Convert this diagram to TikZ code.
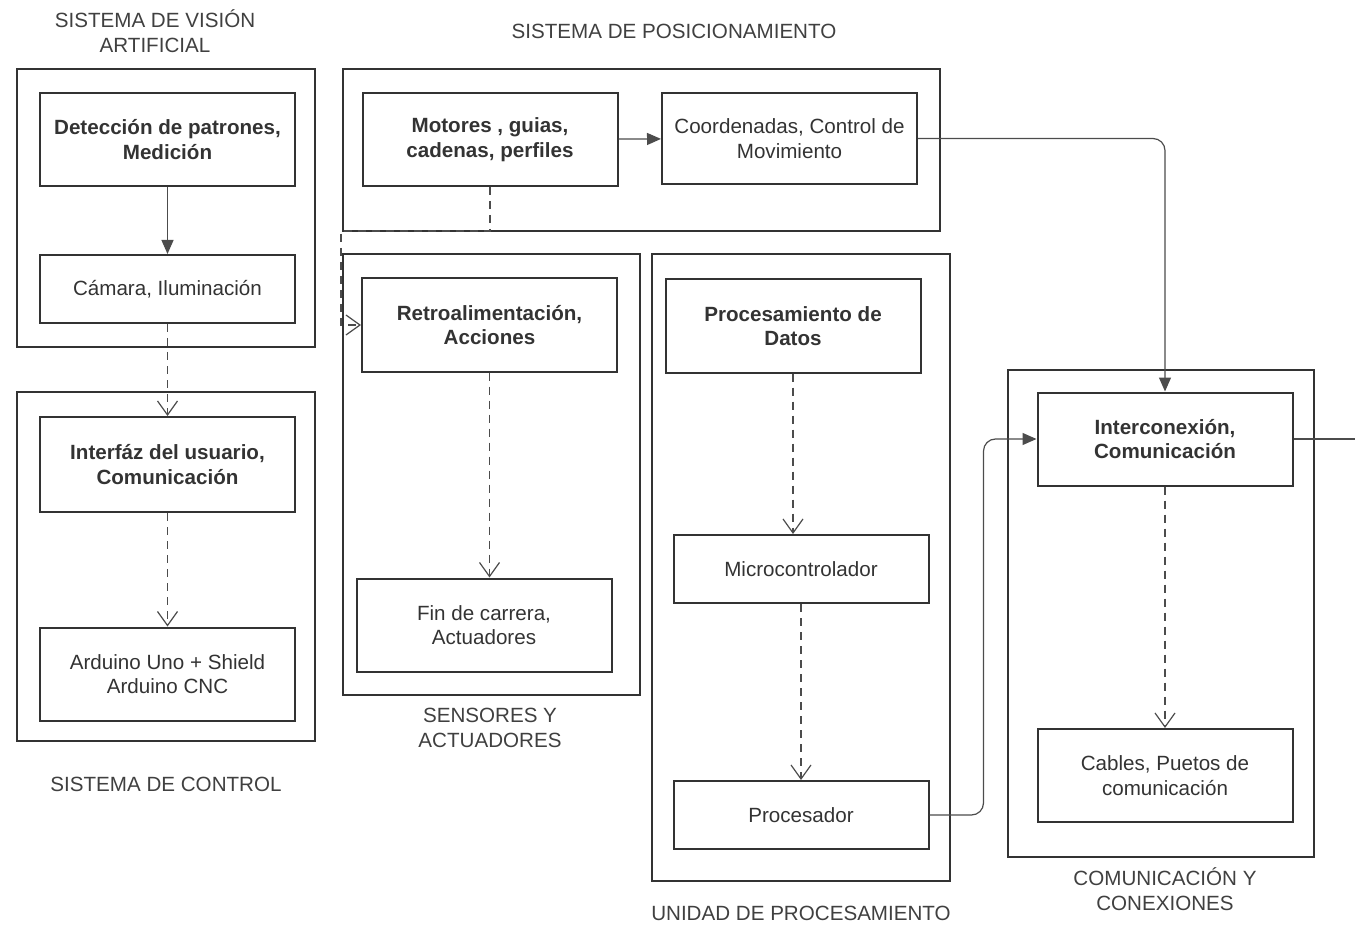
\documentclass[tikz,border=0pt]{standalone}
\usepackage{fontspec}
\setmainfont{Liberation Sans}
\usetikzlibrary{arrows.meta}

\begin{document}
\begin{tikzpicture}[x = 0.5pt, y = -0.5pt,
	font = \fontsize{10.3}{12.2}\selectfont,
	frame/.style = {draw = black!80, line width = 1.1pt},
	blk/.style = {draw = black!80, line width = 1pt, minimum width = 127.5pt, minimum height = 46.5pt, align = center, text = black!80, inner sep = 2pt},
	lowblk/.style = {blk, minimum height = 34pt},
	ttl/.style = {align = center, text = black!75},
	flow/.style = {draw = black!70, line width = 0.6pt, -{Triangle[length = 7pt, width = 6pt]}},
	dflow/.style = {draw = black!70, line width = 0.6pt, dash pattern = on 4pt off 3pt, -{Straight Barb[length = 7pt, width = 10pt]}}]%diagrama
	\useasboundingbox (0,0) rectangle (1355,925);
	\draw[frame]
	(17,69) rectangle (315,347)
	(17,392) rectangle (315,741)
	(343,69) rectangle (940,231)
	(343,254) rectangle (640,695)
	(652,254) rectangle (950,881)
	(1008,370) rectangle (1314,857);
	\node[ttl] (TV) at (155,31) {SISTEMA DE VISIÓN\\ARTIFICIAL};
	\node[ttl] (TP) at (674,31) {SISTEMA DE POSICIONAMIENTO};
	\node[ttl] (TC) at (166,784) {SISTEMA DE CONTROL};
	\node[ttl] (TS) at (490,728) {SENSORES Y\\ACTUADORES};
	\node[ttl] (TU) at (801,913) {UNIDAD DE PROCESAMIENTO};
	\node[ttl] (TM) at (1165,889) {COMUNICACIÓN Y\\CONEXIONES};
	\node[blk, font = \fontsize{10.3}{12.2}\selectfont\bfseries] (DET) at (167.5,139.5) {Detección de patrones,\\Medición};
	\node[lowblk] (CAM) at (167.5,289) {Cámara, Iluminación};
	\node[blk, font = \fontsize{10.3}{12.2}\selectfont\bfseries, minimum height = 47.5pt] (INT) at (167.5,464.5) {Interfáz del usuario,\\Comunicación};
	\node[blk] (ARD) at (167.5,674) {Arduino Uno + Shield\\Arduino CNC};
	\node[blk, font = \fontsize{10.3}{12.2}\selectfont\bfseries] (MOT) at (490,139.5) {Motores , guias,\\cadenas, perfiles};
	\node[blk, minimum height = 45.5pt] (COO) at (789.5,138.5) {Coordenadas, Control de\\Movimiento};
	\node[blk, font = \fontsize{10.3}{12.2}\selectfont\bfseries] (RET) at (489.5,325) {Retroalimentación,\\Acciones};
	\node[blk] (FIN) at (484,625) {Fin de carrera,\\Actuadores};
	\node[blk, font = \fontsize{10.3}{12.2}\selectfont\bfseries] (PRO) at (793,326) {Procesamiento de\\Datos};
	\node[lowblk] (MIC) at (801,569) {Microcontrolador};
	\node[lowblk] (PRC) at (801,815) {Procesador};
	\node[blk, font = \fontsize{10.3}{12.2}\selectfont\bfseries] (ICX) at (1165,439) {Interconexión,\\Comunicación};
	\node[blk] (CAB) at (1165,775.5) {Cables, Puetos de\\comunicación};
	\coordinate (OUT) at (1355,439);
	\draw[flow] (DET) -- (CAM);
	\draw[dflow] (CAM) -- (INT);
	\draw[dflow] (INT) -- (ARD);
	\draw[flow] (MOT) -- (COO);
	\draw[flow, rounded corners = 6pt] (COO.east) -| (ICX.north);
	\draw[dflow] (MOT.south) |- (341,231) |- (RET.west);
	\draw[dflow] (RET) -- (RET |- FIN.north);
	\draw[dflow] (PRO) -- (PRO |- MIC.north);
	\draw[dflow] (MIC) -- (PRC);
	\draw[flow, rounded corners = 6pt] (PRC.east) -- ++(54,0) |- (ICX.west);
	\draw[draw = black!70, line width = 0.6pt] (ICX.east) -- (OUT);
	\draw[dflow] (ICX.south -| CAB) -- (CAB);
\end{tikzpicture}
\end{document}
